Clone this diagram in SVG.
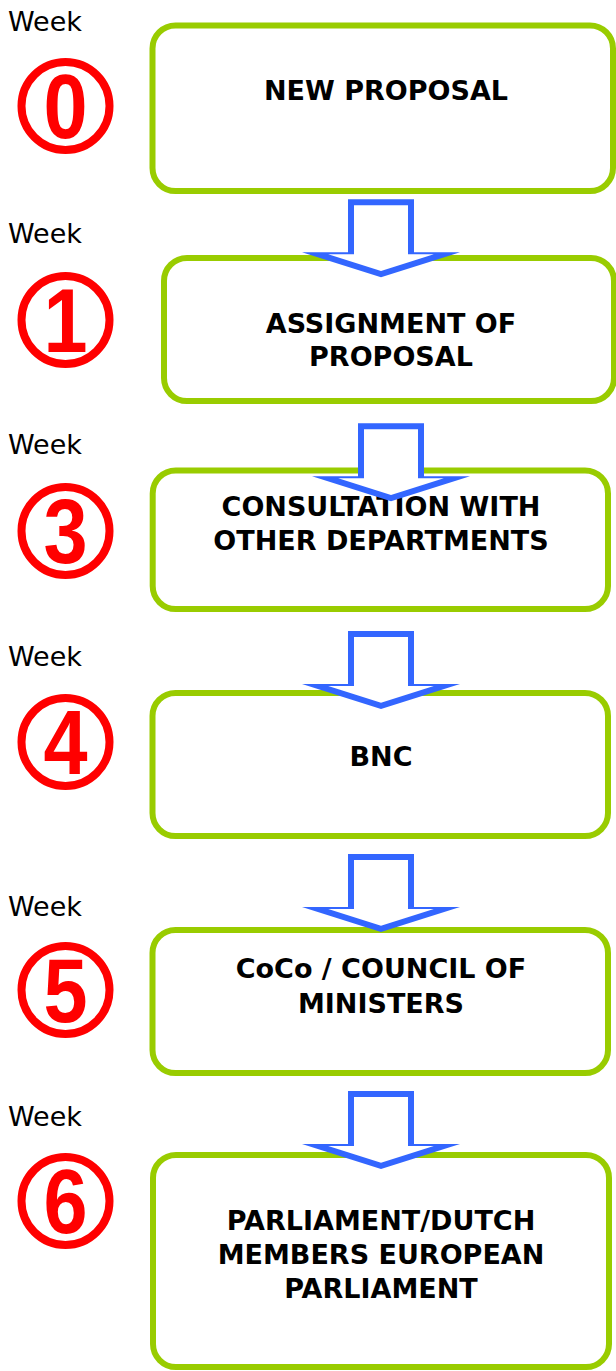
<svg xmlns="http://www.w3.org/2000/svg" width="616" height="1371" viewBox="0 0 616 1371">
  <style>
    .box { fill: none; stroke: #99CC00; stroke-width: 6; }
    .lbl { font-family: "DejaVu Sans", "Liberation Sans", sans-serif; font-weight: bold; font-size: 27px; fill: #000; text-anchor: middle; }
    .week { font-family: "DejaVu Sans", "Liberation Sans", sans-serif; font-size: 27px; fill: #000; }
    .ring { fill: none; stroke: #FF0000; stroke-width: 8; }
    .num { font-family: "Liberation Sans", "DejaVu Sans", sans-serif; font-weight: bold; font-size: 90px; fill: #FF0000; text-anchor: middle; }
  </style>
  <defs>
    <!-- hollow block arrow pointing down, origin at top centre of shaft -->
    <g id="arrow">
      <path d="M-33,0 H33 V53 H79 L0,78 L-79,53 H-33 Z" fill="#3366FF"/>
      <path d="M-27,6 H27 V55 H52.8 L0,71.7 L-52.8,55 H-27 Z" fill="#FFFFFF"/>
    </g>
  </defs>
  <rect width="616" height="1371" fill="#FFFFFF"/>

  <!-- week markers -->
  <g id="weeks">
    <text class="week" x="8" y="31">Week</text>
    <circle class="ring" cx="65.5" cy="106" r="44"/>
    <text class="num" transform="translate(65.5,138) scale(0.88,1)">0</text>

    <text class="week" x="8" y="243">Week</text>
    <circle class="ring" cx="65.5" cy="320" r="44"/>
    <text class="num" transform="translate(65.5,352) scale(0.88,1)">1</text>

    <text class="week" x="8" y="454">Week</text>
    <circle class="ring" cx="65.5" cy="531" r="44"/>
    <text class="num" transform="translate(65.5,563) scale(0.88,1)">3</text>

    <text class="week" x="8" y="666">Week</text>
    <circle class="ring" cx="65.5" cy="742" r="44"/>
    <text class="num" transform="translate(65.5,774) scale(0.88,1)">4</text>

    <text class="week" x="8" y="916">Week</text>
    <circle class="ring" cx="65.5" cy="990" r="44"/>
    <text class="num" transform="translate(65.5,1022) scale(0.88,1)">5</text>

    <text class="week" x="8" y="1126">Week</text>
    <circle class="ring" cx="65.5" cy="1201" r="44"/>
    <text class="num" transform="translate(65.5,1233) scale(0.88,1)">6</text>
  </g>

  <!-- process steps -->
  <g id="new-proposal">
    <rect class="box" x="152.5" y="25.5" width="460.5" height="165.5" rx="23"/>
    <text class="lbl" x="386" y="100">NEW PROPOSAL</text>
  </g>
  <g id="assignment">
    <rect class="box" x="164" y="258" width="450" height="143" rx="23"/>
    <text class="lbl" x="391" y="333">ASSIGNMENT OF</text>
    <text class="lbl" x="391" y="366">PROPOSAL</text>
  </g>
  <g id="consultation">
    <rect class="box" x="152.7" y="470.5" width="455.3" height="138.5" rx="23"/>
    <text class="lbl" x="381" y="516">CONSULTATION WITH</text>
    <text class="lbl" x="381" y="550">OTHER DEPARTMENTS</text>
  </g>
  <g id="bnc">
    <rect class="box" x="152.5" y="693" width="455.5" height="143" rx="23"/>
    <text class="lbl" x="381" y="766">BNC</text>
  </g>
  <g id="council">
    <rect class="box" x="152.5" y="930" width="455.5" height="143" rx="23"/>
    <text class="lbl" x="381" y="978">CoCo / COUNCIL OF</text>
    <text class="lbl" x="381" y="1013">MINISTERS</text>
  </g>
  <g id="parliament">
    <rect class="box" x="153" y="1155" width="456" height="212" rx="23"/>
    <text class="lbl" x="381" y="1230">PARLIAMENT/DUTCH</text>
    <text class="lbl" x="381" y="1264">MEMBERS EUROPEAN</text>
    <text class="lbl" x="381" y="1298">PARLIAMENT</text>
  </g>

  <!-- connectors -->
  <g id="connectors">
    <use href="#arrow" transform="translate(381,199.3)"/>
    <use href="#arrow" transform="translate(391,423.3)"/>
    <use href="#arrow" transform="translate(381,631)"/>
    <use href="#arrow" transform="translate(381,854)"/>
    <use href="#arrow" transform="translate(381,1091)"/>
  </g>
</svg>
